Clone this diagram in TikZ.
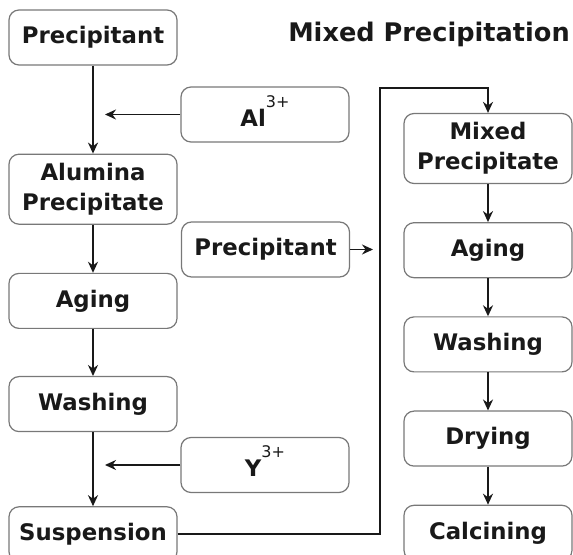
\documentclass[tikz,border=0pt]{standalone}
\usepackage{fontspec}
\setmainfont{DejaVu Sans}
\usetikzlibrary{positioning, arrows.meta}
\definecolor{boxline}{RGB}{120,120,120}
\definecolor{ink}{RGB}{25,25,25}
\tikzset{
  stage/.style={
    draw=boxline, rounded corners=5pt, line width=0.6pt,
    fill=white, text=ink, font=\fontsize{11.4}{15}\selectfont\bfseries,
    minimum width=84pt, minimum height=27.5pt, align=center, inner sep=2pt
  },
  stagetall/.style={stage, minimum height=35pt},
  flow/.style={-{Stealth[length=5.5pt,width=5pt]}, line width=1pt, ink},
  feedflow/.style={flow, line width=0.8pt}
}
% charge written high above the symbol
\newcommand{\ionlabel}[2]{\rule{0pt}{12pt}#1\smash{\raisebox{9.5pt}{\mdseries\fontsize{8}{8}\selectfont #2}}}

\begin{document}
\begin{tikzpicture}[x=0.5pt, y=0.5pt]
  \useasboundingbox (0,0) rectangle (573,-555);

  \node[font=\fontsize{12.8}{15}\selectfont\bfseries, text=ink] (title) at (429,-34) {Mixed Precipitation};

  % alumina route
  \node[stage] (prec) at (93,-37.5) {Precipitant};
  \node[stagetall, below=44pt of prec] (alum) {Alumina\\Precipitate};
  \node[stage, below=24pt of alum] (age1) {Aging};
  \node[stage, below=23.5pt of age1] (wash1) {Washing};
  \node[stage, below=37pt of wash1] (susp) {Suspension};

  % additions
  \node[stage] (al) at (265,-114.5) {\ionlabel{Al}{3+}};
  \node[stage] (prec2) at (265.5,-249.5) {Precipitant};
  \node[stage] (yt) at (265,-465) {\ionlabel{Y}{3+}};
  \coordinate (alin) at (105,-114.5);
  \coordinate (yin) at (105,-465);
  \coordinate (precin) at (373,-249.5);
  \coordinate (turn) at (380,-88);

  % mixed route
  \node[stagetall] (mixed) at (488,-148.5) {Mixed\\Precipitate};
  \node[stage, below=19pt of mixed] (age2) {Aging};
  \node[stage, below=19pt of age2] (wash2) {Washing};
  \node[stage, below=19pt of wash2] (dry) {Drying};
  \node[stage, below=19pt of dry] (calc) {Calcining};

  \draw[flow] (prec) -- (alum);
  \draw[flow] (alum) -- (age1);
  \draw[flow] (age1) -- (wash1);
  \draw[flow] (wash1) -- (susp);
  \draw[feedflow] (al.west) -- (alin);
  \draw[feedflow] (yt.west) -- (yin);
  \draw[feedflow] (prec2.east) -- (precin);
  \draw[flow] (susp.east) -| (turn) -| (mixed.north);
  \draw[flow] (mixed) -- (age2);
  \draw[flow] (age2) -- (wash2);
  \draw[flow] (wash2) -- (dry);
  \draw[flow] (dry) -- (calc);
\end{tikzpicture}
\end{document}
